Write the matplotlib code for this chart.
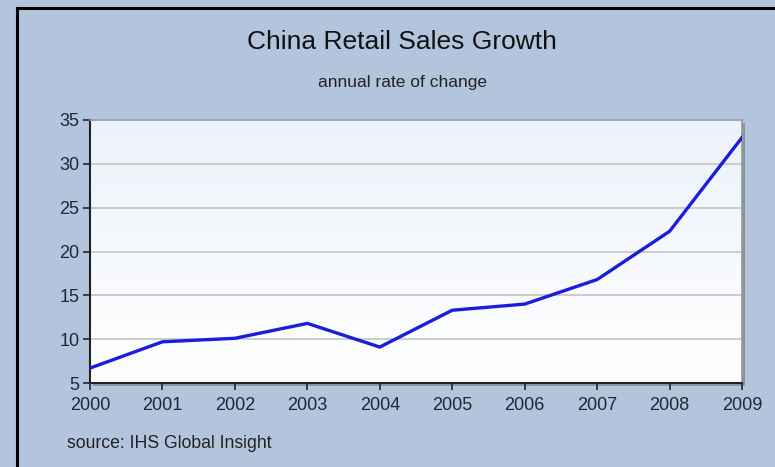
import numpy as np
import matplotlib.pyplot as plt
from matplotlib.patches import Rectangle
from matplotlib.lines import Line2D
from matplotlib.colors import LinearSegmentedColormap

plt.rcParams['font.family'] = ['Liberation Sans', 'DejaVu Sans']

years = [2000, 2001, 2002, 2003, 2004, 2005, 2006, 2007, 2008, 2009]
growth = [6.7, 9.7, 10.1, 11.8, 9.1, 13.3, 14.0, 16.8, 22.3, 33.0]
yticks = [5, 10, 15, 20, 25, 30, 35]

W, H = 775, 467
fig = plt.figure(figsize=(W / 100, H / 100), dpi=100)
bg = '#b3c5dd'
fig.patch.set_facecolor(bg)

# frame lines (left and top only visible)
fig.add_artist(Line2D([17 / W, 17 / W], [0, 1 - 8 / H], color='black', lw=2.2))
fig.add_artist(Line2D([17 / W, 1], [1 - 8 / H, 1 - 8 / H], color='black', lw=2.2))

x0, x1, yt, yb = 90, 742, 120, 383
ax = fig.add_axes([x0 / W, 1 - yb / H, (x1 - x0) / W, (yb - yt) / H])
ax.set_zorder(2)

# drop shadow behind the plot area
fig.add_artist(Rectangle(((x0 + 3) / W, 1 - (yb + 3) / H), (x1 - x0) / W, (yb - yt) / H,
                         facecolor='#8a95a5', edgecolor='none', zorder=1))

ax.set_xlim(years[0], years[-1])
ax.set_ylim(5, 35)

grad = np.linspace(0, 1, 256).reshape(-1, 1)
cm = LinearSegmentedColormap.from_list('g', ['#ffffff', '#ecf2fb'])
ax.imshow(grad, aspect='auto', cmap=cm, origin='lower',
          extent=[years[0], years[-1], 5, 35], zorder=0)

for t in yticks[1:-1]:
    ax.axhline(t, color='#c8c8c8', lw=1.3, zorder=1)

ax.plot(years, growth, color='#1c1cdc', lw=2.4, zorder=3, solid_joinstyle='miter')

ax.set_xticks(years)
ax.set_yticks(yticks)
ax.tick_params(axis='both', labelsize=13, colors='#1e2838', direction='out', length=5, width=1.2)
ax.tick_params(axis='x', pad=5)
ax.tick_params(axis='y', pad=2.5)
for s in ['left', 'bottom']:
    ax.spines[s].set_color('#222222')
    ax.spines[s].set_linewidth(1.5)
for s in ['top', 'right']:
    ax.spines[s].set_color('#999999')
    ax.spines[s].set_linewidth(1.2)

fig.text(402 / W, 1 - 42 / H, 'China Retail Sales Growth', ha='center', va='center',
         fontsize=19, color='#111111')
fig.text(402 / W, 1 - 82 / H, 'annual rate of change', ha='center', va='center',
         fontsize=12.5, color='#222222')
fig.text(67 / W, 1 - 444 / H, 'source: IHS Global Insight', ha='left', va='center',
         fontsize=12.7, color='#222222')

fig.savefig('out.png', dpi=100, facecolor=bg)
